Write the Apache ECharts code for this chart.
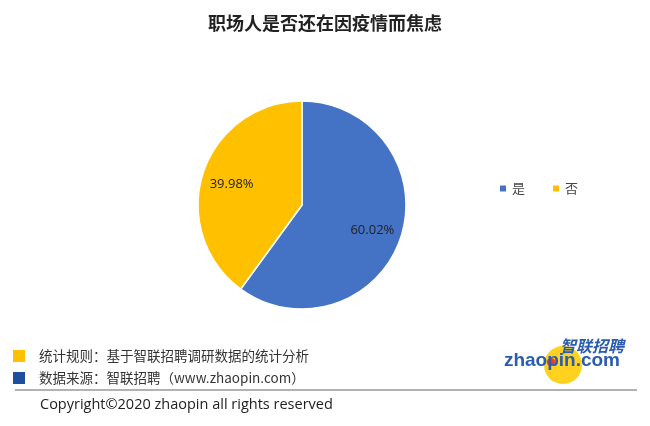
<!DOCTYPE html>
<html><head><meta charset="utf-8">
<script src="https://cdn.jsdelivr.net/npm/echarts@6/dist/echarts.min.js"></script>
<style>html,body{margin:0;padding:0;background:#fff}#c{width:650px;height:426px}</style>
</head><body><div id="c"></div>
<script>
const categories = ['是', '否'];
const values = [60.02, 39.98];
const colors = ['#4472C4', '#FFC000'];
const titleText = '职场人是否还在因疫情而焦虑';
const note1 = '统计规则：基于智联招聘调研数据的统计分析';
const note2 = '数据来源：智联招聘（www.zhaopin.com）';
const copyright = 'Copyright©2020 zhaopin all rights reserved';

const font = '"Noto Sans CJK SC", "Noto Sans", sans-serif';
const data = categories.map((c, i) => ({ name: c, value: values[i], itemStyle: { color: colors[i] } }));
const chart = echarts.init(document.getElementById('c'));
chart.setOption({
  backgroundColor: '#fff',
  animation: false,
  title: { text: titleText, left: 'center', top: 9, textStyle: { fontFamily: font, fontSize: 18, fontWeight: 'bold', color: '#222' } },
  legend: {
    data: categories, orient: 'horizontal', left: 493, top: 177, itemWidth: 8, itemHeight: 8, itemGap: 26,
    icon: 'rect', textStyle: { fontFamily: font, fontSize: 13, color: '#444' }
  },
  series: [
    {
      type: 'pie', radius: [0, 104], center: [302, 205], startAngle: 90, clockwise: true,
      data: data, label: { show: false }, labelLine: { show: false },
      itemStyle: { borderColor: '#fff', borderWidth: 1.5 }, silent: true
    },
    {
      type: 'pie', radius: [38, 104], center: [302, 207], startAngle: 90, clockwise: true,
      data: data.map(d => ({ name: d.name, value: d.value, itemStyle: { color: 'rgba(0,0,0,0)' } })),
      label: { show: true, position: 'inside', formatter: p => p.value.toFixed(2) + '%', fontFamily: '"Open Sans", sans-serif', fontSize: 13, color: '#222' },
      labelLine: { show: false }, silent: true, legendHoverLink: false
    }
  ],
  graphic: [
    { type: 'rect', shape: { x: 13, y: 350, width: 12, height: 12 }, style: { fill: '#FFC000' } },
    { type: 'rect', shape: { x: 13, y: 372, width: 12, height: 12 }, style: { fill: '#1F4E9E' } },
    { type: 'text', x: 39, y: 356, style: { text: note1, font: '13.5px ' + font, fill: '#333', textVerticalAlign: 'middle' } },
    { type: 'text', x: 39, y: 378, style: { text: note2, font: '13.5px ' + font, fill: '#333', textVerticalAlign: 'middle' } },
    { type: 'line', shape: { x1: 15, y1: 390, x2: 637, y2: 390 }, style: { stroke: '#999', lineWidth: 1.5 } },
    { type: 'text', x: 40, y: 405, style: { text: copyright, font: '14.5px "Open Sans", sans-serif', fill: '#222', textVerticalAlign: 'middle' } },
    { type: 'circle', shape: { cx: 563, cy: 365, r: 19 }, style: { fill: '#FFD21F' } },
    { type: 'circle', shape: { cx: 551, cy: 362, r: 4 }, style: { fill: '#E53A2E' } },
    { type: 'text', x: 624, y: 346, style: { text: '智联招聘', font: 'italic bold 16px ' + font, fill: '#2A5DB0', textAlign: 'right', textVerticalAlign: 'middle' } },
    { type: 'text', x: 620, y: 361, style: { text: 'zhaopin.com', font: 'bold 19px "Liberation Sans", Arial, sans-serif', fill: '#2A5DB0', textAlign: 'right', textVerticalAlign: 'middle' } }
  ]
});
</script></body></html>
